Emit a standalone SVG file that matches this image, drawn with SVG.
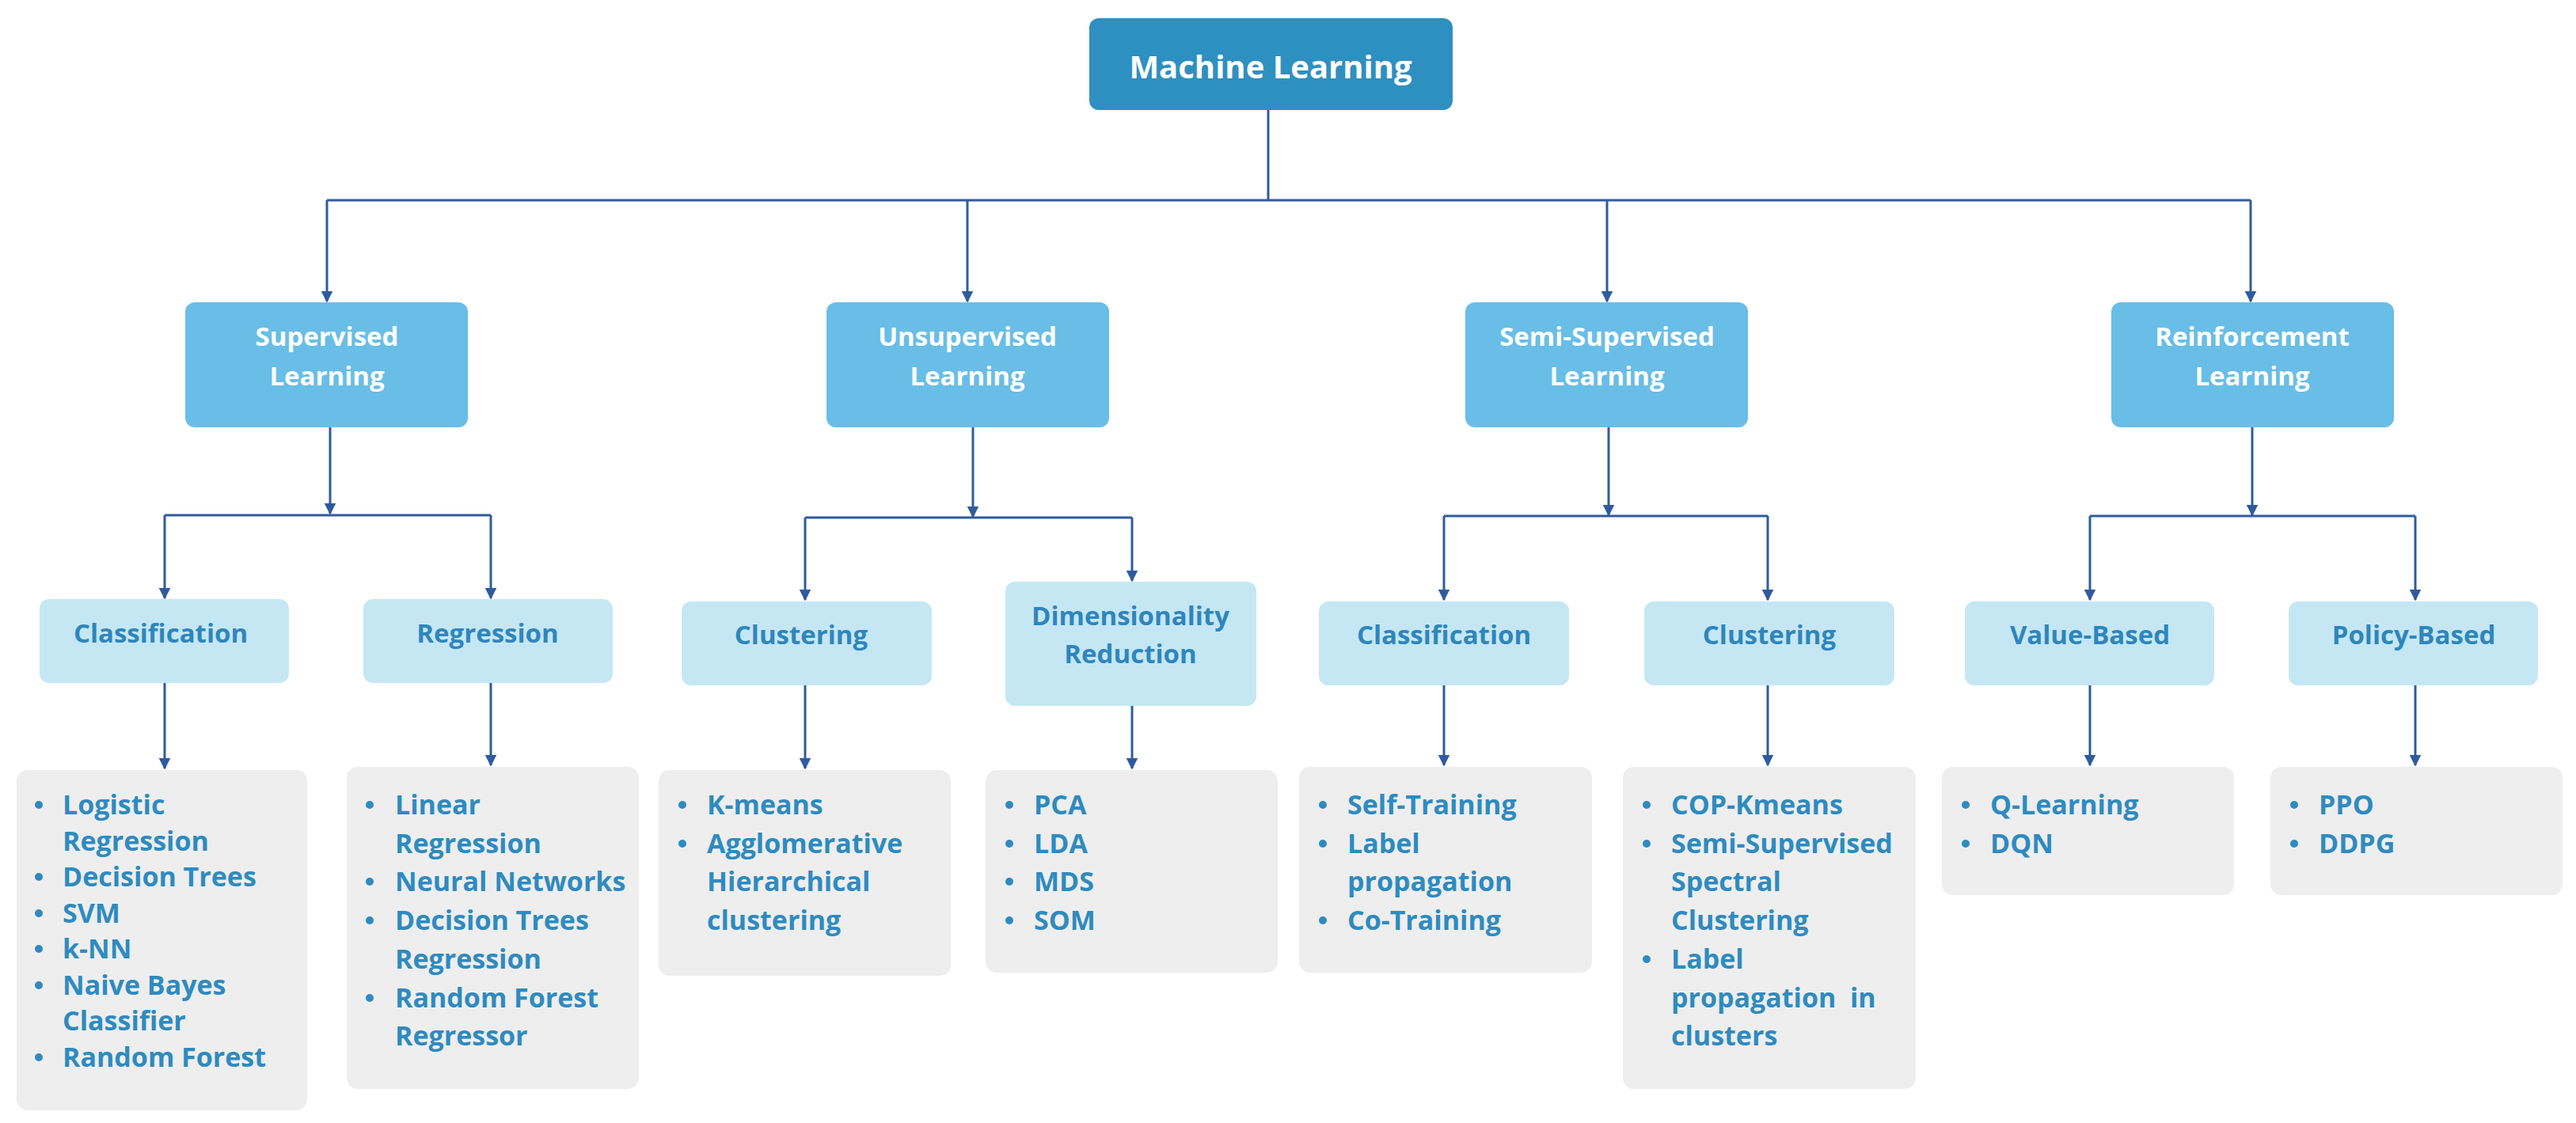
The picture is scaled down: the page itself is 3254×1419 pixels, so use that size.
<svg xmlns="http://www.w3.org/2000/svg" width="3254" height="1419" viewBox="0 0 3254 1419">
<defs>
<marker id="ah" viewBox="0 0 10 10" refX="9" refY="5" markerWidth="5" markerHeight="5" orient="auto" markerUnits="strokeWidth"><path d="M0,0 L10,5 L0,10 z" fill="#2f5b9e"/></marker>
<style>
text{font-family:"Open Sans","Liberation Sans",sans-serif;font-weight:700}
.r{fill:#2e90c0}.l2{fill:#68bee6}.l3{fill:#c5e7f4}.lf{fill:#eeeeee}
.tw{fill:#ffffff;font-size:33px;text-anchor:middle}
.t3{fill:#2e86bd;font-size:33px;text-anchor:middle}
.tl{fill:#2e8bc0;font-size:34px}
.c{fill:none;stroke:#2f5b9e;stroke-width:3}
.a{marker-end:url(#ah)}
</style>
</defs>
<rect width="3254" height="1419" fill="#ffffff"/>
<g id="connectors">
<path class="c" d="M1602,139 V253 M413,253 H2843"/>
<path class="c a" d="M413,253 V381"/><path class="c a" d="M1222,253 V381"/><path class="c a" d="M2030,253 V381"/><path class="c a" d="M2843,253 V381"/>
<path class="c a" d="M417,540 V649"/><path class="c" d="M208,651 H620"/>
<path class="c a" d="M1229,540 V653"/><path class="c" d="M1017,654 H1430"/>
<path class="c a" d="M2032,540 V651"/><path class="c" d="M1824,652 H2233"/>
<path class="c a" d="M2845,540 V651"/><path class="c" d="M2640,652 H3051"/>
<path class="c a" d="M208,651 V756"/><path class="c a" d="M620,651 V756"/>
<path class="c a" d="M1017,654 V758"/><path class="c a" d="M1430,654 V734"/>
<path class="c a" d="M1824,652 V758"/><path class="c a" d="M2233,652 V758"/>
<path class="c a" d="M2640,652 V758"/><path class="c a" d="M3051,652 V758"/>
<path class="c a" d="M208,863 V971"/><path class="c a" d="M620,863 V967"/>
<path class="c a" d="M1017,866 V971"/><path class="c a" d="M1430,892 V971"/>
<path class="c a" d="M1824,866 V967"/><path class="c a" d="M2233,866 V967"/>
<path class="c a" d="M2640,866 V967"/><path class="c a" d="M3051,866 V967"/>
</g>
<g id="root"><rect class="r" x="1376" y="23" width="459" height="116" rx="12"/><text class="tw" x="1605" y="83" font-size="40" style="font-size:40px" dominant-baseline="central">Machine Learning</text></g>
<g id="supervised"><rect class="l2" x="234" y="382" width="357" height="158" rx="12"/><text class="tw" x="413" y="437">Supervised</text><text class="tw" x="413" y="487">Learning</text></g>
<g id="unsupervised"><rect class="l2" x="1044" y="382" width="357" height="158" rx="12"/><text class="tw" x="1222" y="437">Unsupervised</text><text class="tw" x="1222" y="487">Learning</text></g>
<g id="semi"><rect class="l2" x="1851" y="382" width="357" height="158" rx="12"/><text class="tw" x="2030" y="437">Semi-Supervised</text><text class="tw" x="2030" y="487">Learning</text></g>
<g id="reinforcement"><rect class="l2" x="2667" y="382" width="357" height="158" rx="12"/><text class="tw" x="2845" y="437">Reinforcement</text><text class="tw" x="2845" y="487">Learning</text></g>
<g id="sup-class"><rect class="l3" x="50" y="757" width="315" height="106" rx="12"/><text class="t3" x="203" y="812">Classification</text></g>
<g id="sup-reg"><rect class="l3" x="459" y="757" width="315" height="106" rx="12"/><text class="t3" x="616" y="812">Regression</text></g>
<g id="uns-clust"><rect class="l3" x="861" y="760" width="316" height="106" rx="12"/><text class="t3" x="1012" y="814">Clustering</text></g>
<g id="uns-dim"><rect class="l3" x="1270" y="735" width="317" height="157" rx="12"/><text class="t3" x="1428" y="790">Dimensionality</text><text class="t3" x="1428" y="838">Reduction</text></g>
<g id="semi-class"><rect class="l3" x="1666" y="760" width="316" height="106" rx="12"/><text class="t3" x="1824" y="814">Classification</text></g>
<g id="semi-clust"><rect class="l3" x="2077" y="760" width="316" height="106" rx="12"/><text class="t3" x="2235" y="814">Clustering</text></g>
<g id="value"><rect class="l3" x="2482" y="760" width="315" height="106" rx="12"/><text class="t3" x="2640" y="814">Value-Based</text></g>
<g id="policy"><rect class="l3" x="2891" y="760" width="315" height="106" rx="12"/><text class="t3" x="3049" y="814">Policy-Based</text></g>
<g id="leaf1"><rect class="lf" x="21" y="973" width="367" height="430" rx="14"/>
<g class="tl"><text x="79" y="1029">Logistic</text><text x="79" y="1075">Regression</text><text x="79" y="1120">Decision Trees</text><text x="79" y="1166">SVM</text><text x="79" y="1211">k-NN</text><text x="79" y="1257">Naive Bayes</text><text x="79" y="1302">Classifier</text><text x="79" y="1348">Random Forest</text></g>
<g fill="#2e8bc0"><circle cx="49" cy="1017" r="5"/><circle cx="49" cy="1108" r="5"/><circle cx="49" cy="1154" r="5"/><circle cx="49" cy="1199" r="5"/><circle cx="49" cy="1245" r="5"/><circle cx="49" cy="1336" r="5"/></g></g>
<g id="leaf2"><rect class="lf" x="438" y="969" width="369" height="407" rx="14"/>
<g class="tl"><text x="499" y="1029">Linear</text><text x="499" y="1078">Regression</text><text x="499" y="1126">Neural Networks</text><text x="499" y="1175">Decision Trees</text><text x="499" y="1224">Regression</text><text x="499" y="1273">Random Forest</text><text x="499" y="1321">Regressor</text></g>
<g fill="#2e8bc0"><circle cx="467" cy="1017" r="5"/><circle cx="467" cy="1114" r="5"/><circle cx="467" cy="1163" r="5"/><circle cx="467" cy="1261" r="5"/></g></g>
<g id="leaf3"><rect class="lf" x="832" y="973" width="369" height="260" rx="14"/>
<g class="tl"><text x="893" y="1029">K-means</text><text x="893" y="1078">Agglomerative</text><text x="893" y="1126">Hierarchical</text><text x="893" y="1175">clustering</text></g>
<g fill="#2e8bc0"><circle cx="862" cy="1017" r="5"/><circle cx="862" cy="1066" r="5"/></g></g>
<g id="leaf4"><rect class="lf" x="1245" y="973" width="369" height="256" rx="14"/>
<g class="tl"><text x="1306" y="1029">PCA</text><text x="1306" y="1078">LDA</text><text x="1306" y="1126">MDS</text><text x="1306" y="1175">SOM</text></g>
<g fill="#2e8bc0"><circle cx="1275" cy="1017" r="5"/><circle cx="1275" cy="1066" r="5"/><circle cx="1275" cy="1114" r="5"/><circle cx="1275" cy="1163" r="5"/></g></g>
<g id="leaf5"><rect class="lf" x="1641" y="969" width="370" height="260" rx="14"/>
<g class="tl"><text x="1702" y="1029">Self-Training</text><text x="1702" y="1078">Label</text><text x="1702" y="1126">propagation</text><text x="1702" y="1175">Co-Training</text></g>
<g fill="#2e8bc0"><circle cx="1671" cy="1017" r="5"/><circle cx="1671" cy="1066" r="5"/><circle cx="1671" cy="1163" r="5"/></g></g>
<g id="leaf6"><rect class="lf" x="2050" y="969" width="370" height="407" rx="14"/>
<g class="tl"><text x="2111" y="1029">COP-Kmeans</text><text x="2111" y="1078">Semi-Supervised</text><text x="2111" y="1126">Spectral</text><text x="2111" y="1175">Clustering</text><text x="2111" y="1224">Label</text><text x="2111" y="1273" xml:space="preserve">propagation  in</text><text x="2111" y="1321">clusters</text></g>
<g fill="#2e8bc0"><circle cx="2080" cy="1017" r="5"/><circle cx="2080" cy="1066" r="5"/><circle cx="2080" cy="1212" r="5"/></g></g>
<g id="leaf7"><rect class="lf" x="2453" y="969" width="369" height="162" rx="14"/>
<g class="tl"><text x="2514" y="1029">Q-Learning</text><text x="2514" y="1078">DQN</text></g>
<g fill="#2e8bc0"><circle cx="2483" cy="1017" r="5"/><circle cx="2483" cy="1066" r="5"/></g></g>
<g id="leaf8"><rect class="lf" x="2868" y="969" width="369" height="162" rx="14"/>
<g class="tl"><text x="2929" y="1029">PPO</text><text x="2929" y="1078">DDPG</text></g>
<g fill="#2e8bc0"><circle cx="2898" cy="1017" r="5"/><circle cx="2898" cy="1066" r="5"/></g></g>
</svg>
